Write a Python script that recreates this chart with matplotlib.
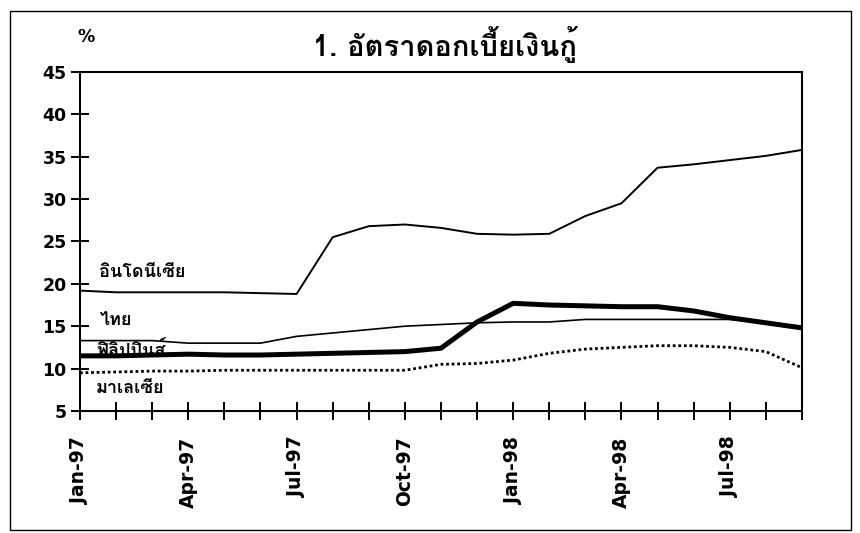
import matplotlib
matplotlib.use("Agg")
import matplotlib.pyplot as plt
from matplotlib import font_manager
from matplotlib.patches import Rectangle

# pick a font that has Thai glyphs, if any is installed
def thai_font():
    for f in font_manager.fontManager.ttflist:
        try:
            cmap = matplotlib.ft2font.FT2Font(f.fname).get_charmap()
        except Exception:
            continue
        if 0x0E2D in cmap:
            return f.name
    return "DejaVu Sans"

TH = thai_font()
plt.rcParams['font.family'] = [TH, 'DejaVu Sans']

months = ["Jan-97", "Feb-97", "Mar-97", "Apr-97", "May-97", "Jun-97", "Jul-97",
          "Aug-97", "Sep-97", "Oct-97", "Nov-97", "Dec-97", "Jan-98", "Feb-98",
          "Mar-98", "Apr-98", "May-98", "Jun-98", "Jul-98", "Aug-98", "Sep-98"]
indonesia = [19.2, 19.0, 19.0, 19.0, 19.0, 18.9, 18.8, 25.5, 26.8, 27.0, 26.6,
             25.9, 25.8, 25.9, 28.0, 29.5, 33.7, 34.1, 34.6, 35.1, 35.8]
thailand = [13.3, 13.3, 13.3, 13.0, 13.0, 13.0, 13.8, 14.2, 14.6, 15.0, 15.2,
            15.4, 15.5, 15.5, 15.8, 15.8, 15.8, 15.8, 15.8, 15.4, 15.0]
philippines = [11.5, 11.5, 11.6, 11.7, 11.6, 11.6, 11.7, 11.8, 11.9, 12.0, 12.4,
               15.5, 17.7, 17.5, 17.4, 17.3, 17.3, 16.8, 16.0, 15.4, 14.8]
malaysia = [9.5, 9.6, 9.7, 9.7, 9.8, 9.8, 9.8, 9.8, 9.8, 9.8, 10.5,
            10.6, 11.0, 11.8, 12.3, 12.5, 12.7, 12.7, 12.5, 12.0, 10.1]
label_months = ["Jan-97", "Apr-97", "Jul-97", "Oct-97", "Jan-98", "Apr-98", "Jul-98"]

fig = plt.figure(figsize=(8.6, 5.33), dpi=100)
ax = fig.add_axes([0.093, 0.229, 0.8395, 0.636])

x = range(len(months))
ax.plot(x, indonesia, color="k", lw=1.4, zorder=3)
ax.plot(x, thailand, color="k", lw=1.2, zorder=3)
ax.plot(x, philippines, color="k", lw=3.6, zorder=4)
ax.plot(x, malaysia, color="k", lw=2.0, ls=(0, (1, 1)), zorder=3)

ax.set_xlim(0, len(months) - 1)
ax.set_ylim(5, 45)
ax.set_yticks(range(5, 46, 5))
ax.set_xticks(list(x))
ax.set_xticklabels([m if m in label_months else "" for m in months],
                   rotation=90, fontsize=13.5, fontweight="bold",
                   fontfamily="DejaVu Sans")
for lab in ax.get_yticklabels():
    lab.set_fontsize(12.5)
    lab.set_fontweight("bold")
    lab.set_fontfamily("DejaVu Sans")
ax.tick_params(direction="inout", length=13, width=1.4, colors="k", pad=3)
ax.tick_params(axis="x", pad=12)
for s in ax.spines.values():
    s.set_linewidth(1.5)

ax.text(0.55, 21.4, "อินโดนีเซีย", fontsize=13, fontweight="bold", va="center")
ax.text(0.55, 15.7, "ไทย", fontsize=13, fontweight="bold", va="center")
ax.text(0.45, 12.1, "ฟิลิปปินส์", fontsize=13, fontweight="bold", va="center",
        zorder=2)
ax.text(0.45, 7.7, "มาเลเซีย", fontsize=13, fontweight="bold", va="center")

fig.text(0.1, 0.93, "%", fontsize=12.5, fontweight="bold", ha="center",
         va="center", fontfamily="DejaVu Sans")
fig.text(0.517, 0.916, "1. อัตราดอกเบี้ยเงินกู้", fontsize=21, fontweight="bold",
         ha="center", va="center")

fig.patches.append(Rectangle((0.012, 0.005), 0.978, 0.975, transform=fig.transFigure,
                             fill=False, lw=1.0, ec="k"))

fig.savefig("out.png", dpi=100)
